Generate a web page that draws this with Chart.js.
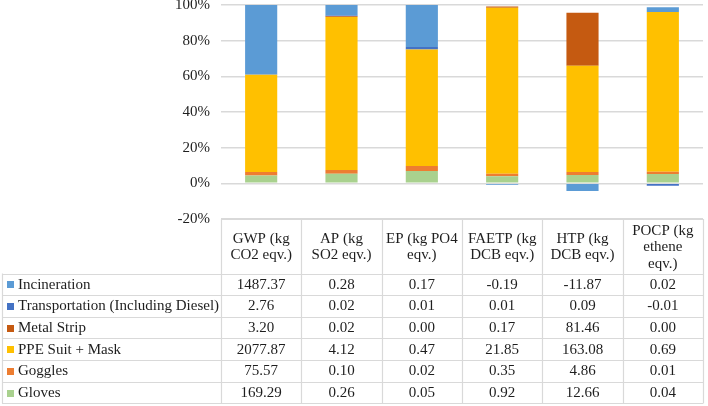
<!DOCTYPE html>
<html lang="en">
<head>
<meta charset="UTF-8">
<title>Impact categories - 100% stacked with data table</title>
<script src="https://cdn.jsdelivr.net/npm/chart.js@4.4.0/dist/chart.umd.min.js"></script>
<style>
    html, body { margin: 0; padding: 0; background: #ffffff; }
    .wrap { position: relative; width: 708px; height: 406px; }
</style>
</head>
<body>
<div class="wrap"><canvas id="chart"></canvas></div>
<script>
// impact categories (header cells of the data table, already broken into lines)
const categories = [
    ['GWP (kg', 'CO2 eqv.)'],
    ['AP (kg', 'SO2 eqv.)'],
    ['EP (kg PO4', 'eqv.)'],
    ['FAETP (kg', 'DCB eqv.)'],
    ['HTP (kg', 'DCB eqv.)'],
    ['POCP (kg', 'ethene', 'eqv.)']
];
const seriesNames = ['Incineration', 'Transportation (Including Diesel)', 'Metal Strip', 'PPE Suit + Mask', 'Goggles', 'Gloves'];
const seriesColors = ['#5b9bd5', '#4472c4', '#c55a11', '#ffc000', '#ed7d31', '#a9d18e'];

// raw values from the table
const incineration   = [1487.37, 0.28, 0.17, -0.19, -11.87, 0.02];
const transportation = [2.76, 0.02, 0.01, 0.01, 0.09, -0.01];
const metalStrip     = [3.20, 0.02, 0.00, 0.17, 81.46, 0.00];
const ppeSuit        = [2077.87, 4.12, 0.47, 21.85, 163.08, 0.69];
const goggles        = [75.57, 0.10, 0.02, 0.35, 4.86, 0.01];
const gloves         = [169.29, 0.26, 0.05, 0.92, 12.66, 0.04];

const yTicks = [-20, 0, 20, 40, 60, 80, 100];

const series = [incineration, transportation, metalStrip, ppeSuit, goggles, gloves];

// 100% stacked: share of the absolute total of each category
const totals = categories.map((c, i) => series.reduce((s, arr) => s + Math.abs(arr[i]), 0));
const percent = arr => arr.map((v, i) => v / totals[i] * 100);

const FONT = '"Liberation Serif", "Times New Roman", serif';
const TEXT = '#1e1e1e';
const LINE = '#d9d9d9';

// stack from the bottom: gloves first, incineration last
const datasets = series.map((arr, k) => ({
    label: seriesNames[k],
    data: percent(arr),
    backgroundColor: seriesColors[k],
    borderWidth: 0,
    stack: 'all',
    categoryPercentage: 1,
    barPercentage: 0.4
})).reverse();

// draws the data table (with legend keys) below the plot
const dataTable = {
    id: 'dataTable',
    afterDraw(chart) {
        const ctx = chart.ctx;
        const x = chart.scales.x;
        const area = chart.chartArea;
        const colW = (area.right - area.left) / categories.length;
        const top = area.bottom;
        const headBottom = 273.5;
        const rowH = 21.65;
        const tableLeft = 2;
        const bottom = headBottom + rowH * seriesNames.length;

        ctx.save();
        ctx.strokeStyle = LINE;
        ctx.lineWidth = 1.2;
        ctx.beginPath();
        // header top + column lines
        ctx.moveTo(area.left, top + 0.5);
        ctx.lineTo(area.right, top + 0.5);
        for (let i = 0; i <= categories.length; i++) {
            const cx = Math.round(area.left + i * colW) + 0.5;
            ctx.moveTo(cx, top);
            ctx.lineTo(cx, bottom);
        }
        // row lines
        for (let r = 0; r <= seriesNames.length; r++) {
            const ry = Math.round(headBottom + r * rowH) + 0.5;
            ctx.moveTo(tableLeft, ry);
            ctx.lineTo(area.right, ry);
        }
        ctx.moveTo(tableLeft + 0.5, headBottom);
        ctx.lineTo(tableLeft + 0.5, bottom);
        ctx.stroke();

        ctx.fillStyle = TEXT;
        ctx.font = '15px ' + FONT;
        ctx.textBaseline = 'middle';
        ctx.textAlign = 'center';

        // header
        const lineH = 16.6;
        const headMid = (top + headBottom) / 2 + 1;
        categories.forEach((lines, i) => {
            const cx = x.getPixelForValue(i);
            const y0 = headMid - (lines.length - 1) * lineH / 2;
            lines.forEach((t, j) => ctx.fillText(t, cx, y0 + j * lineH));
        });

        // rows
        seriesNames.forEach((name, r) => {
            const cy = headBottom + r * rowH + rowH / 2 + 0.5;
            ctx.fillStyle = seriesColors[r];
            ctx.fillRect(7, Math.round(cy - 3.5), 7, 7);
            ctx.fillStyle = TEXT;
            ctx.textAlign = 'left';
            ctx.fillText(name, 18, cy);
            ctx.textAlign = 'center';
            series[r].forEach((v, i) => {
                ctx.fillText(v.toFixed(2), x.getPixelForValue(i), cy);
            });
        });
        ctx.restore();
    }
};

new Chart(document.getElementById('chart'), {
    type: 'bar',
    data: { labels: categories, datasets: datasets },
    options: {
        responsive: true,
        maintainAspectRatio: false,
        animation: false,
        layout: { padding: { top: 5, right: 5, bottom: 187, left: 0 } },
        plugins: {
            legend: { display: false },
            tooltip: { enabled: false }
        },
        scales: {
            x: {
                display: false,
                stacked: true
            },
            y: {
                stacked: true,
                min: -20,
                max: 100,
                afterBuildTicks: scale => { scale.ticks = yTicks.map(v => ({ value: v })); },
                afterFit: scale => {
                    scale.width = 221;
                    scale.paddingTop = 0;
                    scale.paddingBottom = 0;
                },
                grid: {
                    color: LINE,
                    lineWidth: 1.5,
                    drawTicks: false
                },
                border: { display: false },
                ticks: {
                    padding: 11,
                    color: TEXT,
                    font: { family: FONT, size: 15 },
                    callback: v => v + '%'
                }
            }
        }
    },
    plugins: [dataTable]
});
</script>
</body>
</html>
